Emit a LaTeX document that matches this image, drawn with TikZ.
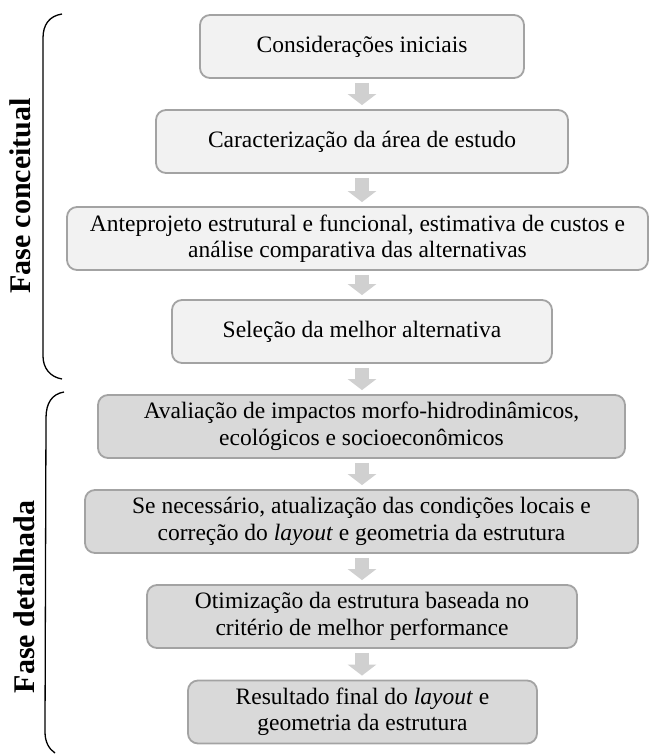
\documentclass[tikz,border=0pt]{standalone}
\usepackage{fontspec}
\setmainfont{Liberation Serif}
\usetikzlibrary{arrows.meta}
\definecolor{boxline}{HTML}{A3A3A3}
\definecolor{lightfill}{HTML}{F2F2F2}
\definecolor{darkfill}{HTML}{D9D9D9}
\definecolor{arrowgray}{HTML}{D0D0D0}
\begin{document}
\begin{tikzpicture}[x=1pt,y=-1pt,
  stepbox/.style={draw=boxline, line width=1.8pt, rounded corners=10pt,
    minimum height=63pt, align=center, inner sep=2pt,
    font=\fontsize{23.5}{26.5}\selectfont},
  conceptbox/.style={stepbox, fill=lightfill},
  detailbox/.style={stepbox, fill=darkfill},
  flowarrow/.style={draw=arrowgray, line width=14pt,
    -{Triangle[width=28pt,length=11pt]}, shorten <=4pt, shorten >=4pt},
  brace/.style={draw=black, line width=1.3pt},
  phase/.style={rotate=90, font=\fontsize{30}{34}\selectfont\bfseries}]
\useasboundingbox (0,0) rectangle (649,754);

% conceptual phase
\node[conceptbox, minimum width=324pt] (b1) at (362,46.5) {Considerações iniciais};
\node[conceptbox, minimum width=412pt] (b2) at (362,141.5) {Caracterização da área de estudo};
\node[conceptbox, minimum width=581pt] (b3) at (357.5,238.5)
  {Anteprojeto estrutural e funcional, estimativa de custos e\\análise comparativa das alternativas};
\node[conceptbox, minimum width=380pt] (b4) at (362,331.5) {Seleção da melhor alternativa};

% detailed phase
\node[detailbox, minimum width=527pt] (b5) at (361.5,426.5)
  {Avaliação de impactos morfo-hidrodinâmicos,\\ecológicos e socioeconômicos};
\node[detailbox, minimum width=553pt] (b6) at (361.5,521.5)
  {Se necessário, atualização das condições locais e\\correção do \textit{layout} e geometria da estrutura};
\node[detailbox, minimum width=430pt] (b7) at (362,616.5)
  {Otimização da estrutura baseada no\\critério de melhor performance};
\node[detailbox, minimum width=349pt] (b8) at (362.5,712)
  {Resultado final do \textit{layout} e\\geometria da estrutura};

% downward block arrows on a common axis
\coordinate (axis) at (362,0);
\foreach \a/\b in {b1/b2,b2/b3,b3/b4,b4/b5,b5/b6,b6/b7,b7/b8}
  \draw[flowarrow] (\a.south -| axis) -- (\b.north -| axis);

% phase braces
\coordinate (c1a) at (62,14);
\coordinate (c1b) at (62,379);
\draw[brace] (c1a) .. controls (49,16) and (43,25) .. (43,38) -- (43,356)
  .. controls (43,368) and (50,377) .. (c1b);
\coordinate (c2a) at (64,392);
\coordinate (c2b) at (55,753);
\draw[brace] (c2a) .. controls (52,394) and (46,403) .. (46,418) -- (45,732)
  .. controls (45,742) and (49,749) .. (c2b);

\node[phase] (p1) at (20,196) {Fase conceitual};
\node[phase] (p2) at (24,597) {Fase detalhada};
\end{tikzpicture}
\end{document}
